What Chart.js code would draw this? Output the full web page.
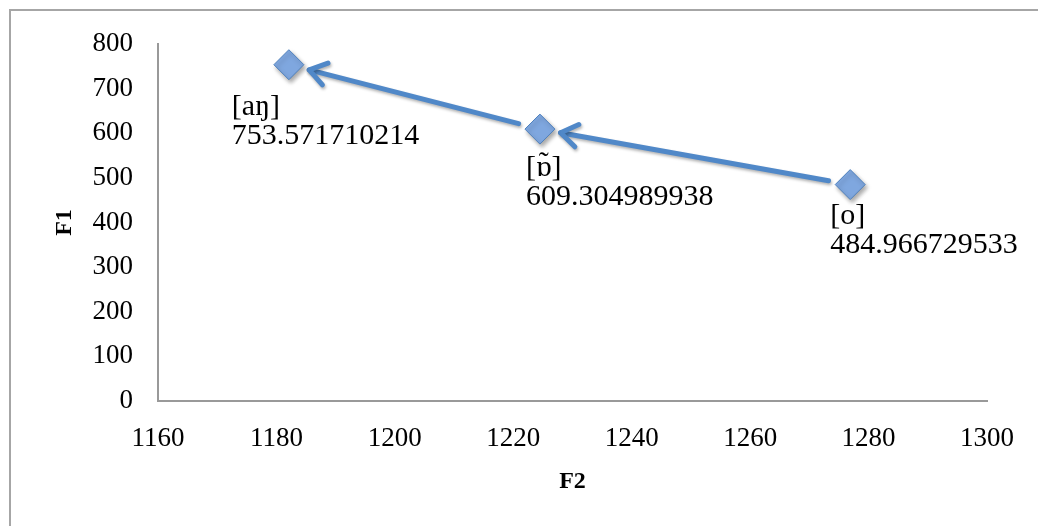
<!DOCTYPE html>
<html>
<head>
<meta charset="utf-8">
<script src="https://cdn.jsdelivr.net/npm/chart.js@4.4.1/dist/chart.umd.min.js"></script>
<style>
  html, body { margin: 0; padding: 0; background: #fff; }
  #wrap { width: 1038px; height: 526px; position: relative; }
</style>
</head>
<body>
<div id="wrap"><canvas id="vowels"></canvas></div>
<script>
// vowel formants (F2, F1 from the data labels)
const vowels = ["[aŋ]", "[ɒ̃]", "[o]"];
const f2Values = [1182.1, 1224.5, 1276.9];
const f1Values = [753.571710214, 609.304989938, 484.966729533];
const f1Labels = ["753.571710214", "609.304989938", "484.966729533"];

// arrows drawn between points: [from, to]
const arrowPairs = [[2, 1], [1, 0]];

// where each data label sits relative to its marker
const labelOffsets = [
  { dx: -57, dy: 42 },
  { dx: -14, dy: 39 },
  { dx: -20, dy: 32 },
];

const blue = "#4f81bd";
const serif = "'Liberation Serif', 'DejaVu Serif', serif";

const points = f2Values.map((x, i) => ({ x: x, y: f1Values[i] }));

// Liberation Serif has no anchor for the combining tilde, so place it by hand
function drawVowel(ctx, text, x, y) {
  const parts = text.split("\u0303");
  if (parts.length < 2) {
    ctx.fillText(text, x, y);
    return;
  }
  const base = parts[0];
  ctx.fillText(base + parts[1], x, y);
  const before = ctx.measureText(base.slice(0, -1)).width;
  const w = ctx.measureText(base.slice(-1)).width;
  ctx.save();
  ctx.textAlign = "center";
  ctx.fillText("\u02DC", x + before + w / 2, y - 4);
  ctx.restore();
}

const overlay = {
  id: "overlay",
  beforeDraw(chart) {
    const ctx = chart.ctx;
    ctx.save();
    ctx.strokeStyle = "#a6a6a6";
    ctx.lineWidth = 2;
    ctx.strokeRect(10, 10, 1040, 540);
    ctx.restore();
  },
  beforeDatasetsDraw(chart) {
    const ctx = chart.ctx;
    const pts = chart.getDatasetMeta(0).data;
    ctx.save();
    ctx.strokeStyle = "#5088c8";
    ctx.lineWidth = 5;
    ctx.lineCap = "round";
    ctx.lineJoin = "round";
    ctx.shadowColor = "rgba(0,0,0,0.3)";
    ctx.shadowBlur = 3;
    ctx.shadowOffsetX = 1;
    ctx.shadowOffsetY = 2;
    arrowPairs.forEach(([a, b]) => {
      const p = pts[a], q = pts[b];
      const dx = q.x - p.x, dy = q.y - p.y;
      const len = Math.hypot(dx, dy);
      const ux = dx / len, uy = dy / len;
      const sx = p.x + ux * 22, sy = p.y + uy * 22;
      const ex = q.x - ux * 21, ey = q.y - uy * 21;
      ctx.beginPath();
      ctx.moveTo(sx, sy);
      ctx.lineTo(ex, ey);
      ctx.stroke();
      const ang = Math.atan2(uy, ux);
      const wing = 20, spread = 0.6;
      ctx.beginPath();
      ctx.moveTo(ex - wing * Math.cos(ang - spread), ey - wing * Math.sin(ang - spread));
      ctx.lineTo(ex, ey);
      ctx.lineTo(ex - wing * Math.cos(ang + spread), ey - wing * Math.sin(ang + spread));
      ctx.stroke();
    });
    ctx.restore();
  },
  beforeDatasetDraw(chart) {
    const ctx = chart.ctx;
    ctx.save();
    ctx.shadowColor = "rgba(0,0,0,0.35)";
    ctx.shadowBlur = 4;
    ctx.shadowOffsetX = 2;
    ctx.shadowOffsetY = 3;
  },
  afterDatasetDraw(chart) {
    chart.ctx.restore();
  },
  afterDatasetsDraw(chart) {
    const ctx = chart.ctx;
    const pts = chart.getDatasetMeta(0).data;
    ctx.save();
    ctx.fillStyle = "#000";
    ctx.font = "30px " + serif;
    ctx.textBaseline = "middle";
    ctx.textAlign = "left";
    pts.forEach((pt, i) => {
      const o = labelOffsets[i];
      drawVowel(ctx, vowels[i], pt.x + o.dx, pt.y + o.dy);
      ctx.fillText(f1Labels[i], pt.x + o.dx, pt.y + o.dy + 29);
    });
    ctx.restore();
  }
};

new Chart(document.getElementById("vowels"), {
  type: "scatter",
  data: {
    datasets: [{
      label: "F1",
      data: points,
      pointStyle: "rectRot",
      pointRadius: 15,
      pointHoverRadius: 15,
      backgroundColor: "#7fa7df",
      borderColor: "#4f81bd",
      borderWidth: 1,
    }]
  },
  options: {
    responsive: true,
    maintainAspectRatio: false,
    animation: false,
    events: [],
    layout: { padding: { left: 0, top: 44, right: 51, bottom: 0 } },
    plugins: {
      legend: { display: false },
      tooltip: { enabled: false },
    },
    scales: {
      x: {
        type: "linear",
        min: 1160,
        max: 1300,
        ticks: {
          stepSize: 20, padding: 22, color: "#000",
          font: { family: serif, size: 27 },
          callback: (v) => String(v),
        },
        grid: { display: false, drawTicks: false },
        border: { display: true, color: "#999", width: 2 },
        title: { display: true, text: "F2", color: "#000", font: { family: serif, size: 24, weight: "bold" }, padding: { top: 0, bottom: 30 } },
        afterFit(s) { s.height = 125; },
      },
      y: {
        min: 0,
        max: 800,
        ticks: { stepSize: 100, padding: 25, color: "#000", font: { family: serif, size: 27 } },
        grid: { display: false, drawTicks: false },
        border: { display: true, color: "#999", width: 2 },
        title: { display: true, text: "F1", color: "#000", font: { family: serif, size: 24, weight: "bold" }, padding: { top: 50, bottom: 0 } },
        afterFit(s) { s.width = 158; },
      }
    }
  },
  plugins: [overlay]
});
</script>
</body>
</html>
